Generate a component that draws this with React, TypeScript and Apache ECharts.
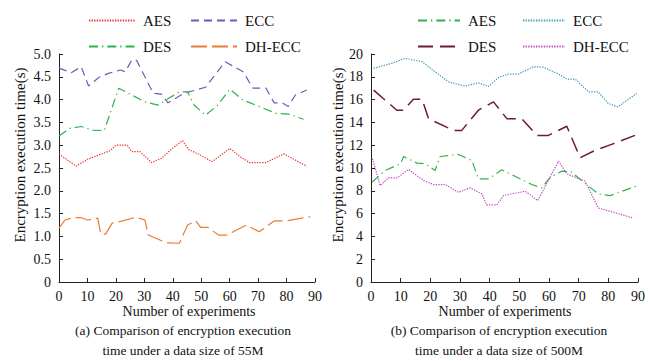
import React, { useEffect, useRef } from "react";
import * as echarts from "echarts";

// ---------- Data: (a) 55M ----------
const aesLX = [0, 6, 10, 18, 20, 24, 25.6, 28.5, 32.5, 36, 38.9, 43.4, 45.7, 49.2, 53.8, 60.1, 63.6, 67, 72.8, 79, 87.1];
const aesLY = [2.81, 2.54, 2.69, 2.88, 3.0, 3.0, 2.86, 2.86, 2.62, 2.71, 2.88, 3.1, 2.9, 2.8, 2.64, 2.93, 2.75, 2.62, 2.62, 2.81, 2.54];
const eccLX = [0, 4.3, 7.8, 10.4, 14.1, 17.6, 21.6, 23.3, 25.6, 27.3, 33.1, 36, 38.3, 44, 51.5, 58.4, 64.7, 68.2, 72.8, 75.6, 78.5, 80.6, 83.1, 87.1];
const eccLY = [4.69, 4.59, 4.72, 4.3, 4.49, 4.58, 4.65, 4.61, 4.87, 4.86, 4.14, 4.12, 3.93, 4.14, 4.27, 4.83, 4.61, 4.25, 4.25, 3.93, 3.93, 3.85, 4.1, 4.21];
const desLX = [0, 3.8, 7.8, 11.8, 15.9, 21, 25.6, 30.2, 34.8, 37.7, 39.4, 42.3, 45.2, 47.5, 51.5, 55.5, 60.1, 64.7, 70.4, 76.2, 80.8, 86];
const desLY = [3.2, 3.37, 3.41, 3.33, 3.32, 4.25, 4.1, 3.95, 3.88, 3.99, 4.06, 4.17, 4.17, 3.88, 3.66, 3.86, 4.23, 3.99, 3.85, 3.7, 3.68, 3.57];
const dhLX = [0, 2.1, 4.9, 7.8, 10.1, 13.6, 14.7, 16.4, 18.7, 21, 27, 30.2, 31.4, 37.7, 42.3, 45.2, 48.1, 49.8, 52.3, 56.1, 59, 65.9, 70.4, 75.6, 79.7, 88.3];
const dhLY = [1.18, 1.36, 1.41, 1.41, 1.36, 1.4, 1.05, 1.05, 1.29, 1.32, 1.42, 1.36, 1.03, 0.86, 0.85, 1.25, 1.34, 1.2, 1.2, 1.03, 1.03, 1.25, 1.1, 1.34, 1.34, 1.43];

// ---------- Data: (b) 500M ----------
const aesRX = [0.3, 4.8, 9.9, 11, 15.5, 18.3, 21.6, 23.3, 29.5, 34, 36.2, 39.6, 44.1, 54.2, 57.6, 60.4, 64.3, 67.7, 71, 76.6, 80.6, 90];
const aesRY = [8.75, 9.78, 10.37, 11.01, 10.43, 10.37, 9.78, 11.01, 11.19, 10.66, 9.05, 9.05, 9.84, 8.55, 8.25, 9.19, 9.72, 9.63, 8.9, 7.73, 7.58, 8.46];
const eccRX = [0.9, 7, 11.5, 17.2, 21.6, 26.1, 31.7, 36.2, 39.6, 43, 46.3, 49.7, 54.7, 58.1, 63.2, 66, 68.8, 73.3, 76.6, 80, 83.2, 89.6];
const eccRY = [18.74, 19.18, 19.62, 19.33, 18.44, 17.56, 17.18, 17.47, 17.15, 17.94, 18.24, 18.24, 18.88, 18.85, 18.24, 17.8, 17.8, 16.68, 16.68, 15.66, 15.36, 16.54];
const desRX = [0.9, 8.7, 11, 14.3, 17.2, 19.4, 27.8, 30.6, 36.2, 41.3, 45.8, 50.8, 55.9, 59.8, 66, 70.5, 75.5, 81.1, 89.9];
const desRY = [16.83, 15.07, 15.07, 16.04, 16.04, 14.33, 13.3, 13.3, 15.07, 15.8, 14.33, 14.33, 12.86, 12.86, 13.66, 10.9, 11.54, 12.07, 12.95];
const dhRX = [0.5, 3.1, 5.9, 8.8, 12.7, 17.7, 21.1, 25, 29.5, 33.4, 37.4, 39, 42.4, 44.7, 52, 56.2, 63.2, 66, 72.2, 76.6, 80.6, 88.4];
const dhRY = [10.81, 8.46, 9.14, 9.14, 9.87, 8.9, 8.55, 8.55, 7.87, 8.26, 7.73, 6.76, 6.76, 7.58, 7.96, 7.14, 10.6, 9.49, 8.84, 6.49, 6.2, 5.61];

const seriesNames = ["AES", "ECC", "DES", "DH-ECC"];
const xTicks = [0, 90, 10];
const yLeftRange = [0, 5, 0.5];
const yRightRange = [0, 20, 2];
const yAxisTitle = "Encryption execution time(s)";
const xAxisTitle = "Number of experiments";
const captionA = ["(a) Comparison of encryption execution", "time under a data size of 55M"];
const captionB = ["(b) Comparison of encryption execution", "time under a data size of 500M"];

const FONT = "'Liberation Serif', 'Times New Roman', serif";

const zip = (xs: number[], ys: number[]) => xs.map((x, i) => [x, ys[i]]);

function mkSeries(name: string, xs: number[], ys: number[], color: string, type: any, width: number) {
  return {
    name,
    type: "line",
    data: zip(xs, ys),
    showSymbol: false,
    symbol: "none",
    lineStyle: { color, type, width, cap: "butt" },
    itemStyle: { color },
  };
}

function buildOption(opts: {
  gridLeft: number;
  gridRight: number;
  yRange: number[];
  yDecimals: boolean;
  series: any[];
  legendCol1: { left: number; names: string[] };
  legendCol2: { left: number; names: string[] };
  iconW: number;
  yNameX: number;
  centerX: number;
  caption: string[];
}) {
  const legendBase: any = {
    orient: "vertical",
    top: 8,
    itemWidth: opts.iconW,
    itemHeight: 14,
    itemGap: 11,
    itemStyle: { opacity: 0 },
    textStyle: { fontFamily: FONT, fontSize: 15, color: "#111", padding: [0, 0, 0, 3] },
    selectedMode: false,
  };
  return {
    animation: false,
    backgroundColor: "#fff",
    textStyle: { fontFamily: FONT },
    legend: [
      { ...legendBase, left: opts.legendCol1.left, data: opts.legendCol1.names },
      { ...legendBase, left: opts.legendCol2.left, data: opts.legendCol2.names },
    ],
    grid: { left: opts.gridLeft, right: opts.gridRight, top: 54, bottom: 79, containLabel: false },
    xAxis: {
      type: "value",
      min: xTicks[0],
      max: xTicks[1],
      interval: xTicks[2],
      axisLine: { show: true, lineStyle: { color: "#222", width: 1 } },
      axisTick: { show: true, inside: true, length: 4, lineStyle: { color: "#222" } },
      splitLine: { show: false },
      axisLabel: { fontFamily: FONT, fontSize: 14, color: "#111", margin: 7 },
    },
    yAxis: {
      type: "value",
      min: opts.yRange[0],
      max: opts.yRange[1],
      interval: opts.yRange[2],
      axisLine: { show: true, lineStyle: { color: "#222", width: 1 } },
      axisTick: { show: true, inside: true, length: 4, lineStyle: { color: "#222" } },
      splitLine: { show: false },
      axisLabel: {
        fontFamily: FONT,
        fontSize: 14,
        color: "#111",
        margin: 8,
        formatter: (v: number) => (v === 0 ? "0" : opts.yDecimals ? v.toFixed(1) : String(v)),
      },
    },
    graphic: [
      {
        type: "text",
        x: opts.yNameX,
        y: 155,
        rotation: Math.PI / 2,
        style: {
          text: yAxisTitle,
          font: `15px ${FONT}`,
          fill: "#111",
          align: "center",
          verticalAlign: "middle",
        },
      },
      {
        type: "text",
        x: opts.centerX,
        y: 311,
        style: { text: xAxisTitle, font: `14px ${FONT}`, fill: "#111", align: "center", verticalAlign: "middle" },
      },
      {
        type: "text",
        x: opts.centerX - 6,
        y: 330,
        style: { text: opts.caption[0], font: `13.5px ${FONT}`, fill: "#111", align: "center", verticalAlign: "middle" },
      },
      {
        type: "text",
        x: opts.centerX - 6,
        y: 350,
        style: { text: opts.caption[1], font: `13.5px ${FONT}`, fill: "#111", align: "center", verticalAlign: "middle" },
      },
    ],
    series: opts.series,
  };
}

function Panel({ option }: { option: any }) {
  const ref = useRef<HTMLDivElement>(null);
  useEffect(() => {
    if (!ref.current) return;
    const chart = echarts.init(ref.current, undefined, { renderer: "svg" });
    chart.setOption(option);
    return () => chart.dispose();
  }, [option]);
  return <div ref={ref} style={{ width: 325, height: 361 }} />;
}

const leftOption = buildOption({
  gridLeft: 59,
  gridRight: 5,
  yRange: yLeftRange,
  yDecimals: true,
  series: [
    mkSeries(seriesNames[0], aesLX, aesLY, "#f03030", [1.3, 1.3], 1.2),
    mkSeries(seriesNames[1], eccLX, eccLY, "#7a55be", [8, 5], 1.2),
    mkSeries(seriesNames[2], desLX, desLY, "#2db34a", [9, 4, 1.3, 4], 1.2),
    mkSeries(seriesNames[3], dhLX, dhLY, "#ec7a36", [16, 5], 1.2),
  ],
  legendCol1: { left: 83, names: [seriesNames[0], seriesNames[2]] },
  legendCol2: { left: 185, names: [seriesNames[1], seriesNames[3]] },
  iconW: 46,
  yNameX: 20,
  centerX: 189,
  caption: captionA,
});

const rightOption = buildOption({
  gridLeft: 46,
  gridRight: 12,
  yRange: yRightRange,
  yDecimals: false,
  series: [
    mkSeries(seriesNames[0], aesRX, aesRY, "#2db34a", [9, 4, 1.3, 4], 1.2),
    mkSeries(seriesNames[1], eccRX, eccRY, "#3a98b6", [1.3, 1.3], 1.2),
    mkSeries(seriesNames[2], desRX, desRY, "#6e1a38", [15, 7], 1.5),
    mkSeries(seriesNames[3], dhRX, dhRY, "#c445c4", [1.3, 1.3], 1.2),
  ],
  legendCol1: { left: 87, names: [seriesNames[0], seriesNames[2]] },
  legendCol2: { left: 192, names: [seriesNames[1], seriesNames[3]] },
  iconW: 42,
  yNameX: 13,
  centerX: 180,
  caption: captionB,
});

export default function App() {
  return (
    <div style={{ position: "fixed", left: 0, top: 0, width: 650, height: 361, display: "flex", background: "#fff" }}>
      <Panel option={leftOption} />
      <Panel option={rightOption} />
    </div>
  );
}
